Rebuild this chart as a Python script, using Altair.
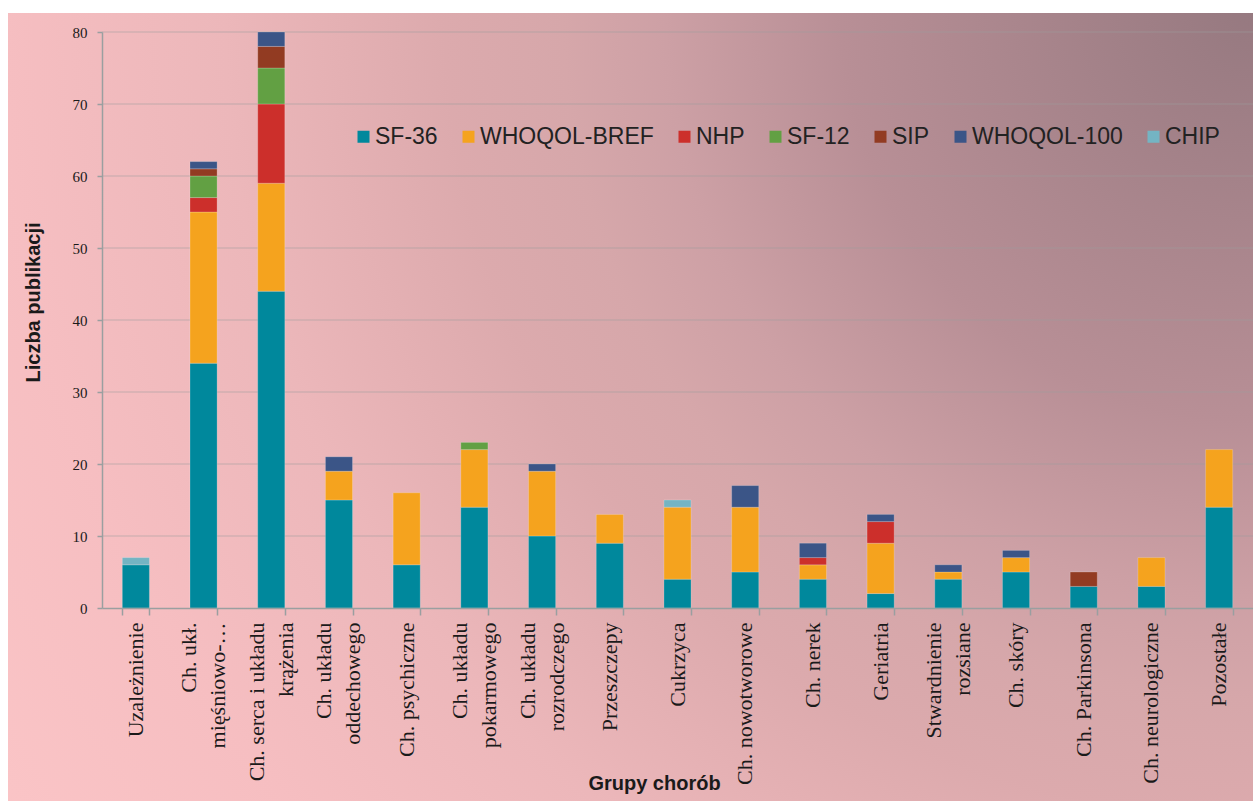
import altair as alt
import pandas as pd

categories = [
    "Uzależnienie",
    "Ch. ukł.|mięśniowo-…",
    "Ch. serca i układu|krążenia",
    "Ch. układu|oddechowego",
    "Ch. psychiczne",
    "Ch. układu|pokarmowego",
    "Ch. układu|rozrodczego",
    "Przeszczepy",
    "Cukrzyca",
    "Ch. nowotworowe",
    "Ch. nerek",
    "Geriatria",
    "Stwardnienie|rozsiane",
    "Ch. skóry",
    "Ch. Parkinsona",
    "Ch. neurologiczne",
    "Pozostałe",
]

series = ["SF-36", "WHOQOL-BREF", "NHP", "SF-12", "SIP", "WHOQOL-100", "CHIP"]
colors = ["#00889c", "#f5a31e", "#cc2f2b", "#62a043", "#923b22", "#3b5587", "#74b4c3"]

sf36 = [6, 34, 44, 15, 6, 14, 10, 9, 4, 5, 4, 2, 4, 5, 3, 3, 14]
whoqol_bref = [0, 21, 15, 4, 10, 8, 9, 4, 10, 9, 2, 7, 1, 2, 0, 4, 8]
nhp = [0, 2, 11, 0, 0, 0, 0, 0, 0, 0, 1, 3, 0, 0, 0, 0, 0]
sf12 = [0, 3, 5, 0, 0, 1, 0, 0, 0, 0, 0, 0, 0, 0, 0, 0, 0]
sip = [0, 1, 3, 0, 0, 0, 0, 0, 0, 0, 0, 0, 0, 0, 2, 0, 0]
whoqol100 = [0, 1, 2, 2, 0, 0, 1, 0, 0, 3, 2, 1, 1, 1, 0, 0, 0]
chip = [1, 0, 0, 0, 0, 0, 0, 0, 1, 0, 0, 0, 0, 0, 0, 0, 0]

y_ticks = [0, 10, 20, 30, 40, 50, 60, 70, 80]

values_by_series = [sf36, whoqol_bref, nhp, sf12, sip, whoqol100, chip]
rows = []
for si, (name, vals) in enumerate(zip(series, values_by_series)):
    for cat, v in zip(categories, vals):
        if v > 0:
            rows.append({"cat": cat, "series": name, "value": v, "order": si})
df = pd.DataFrame(rows)

W, H = 1151, 576
PL, PT, PR, PB = 102, 32, 0, 193
AX = "#9a9fa0"

gradient = {
    "gradient": "radial",
    "x1": 1, "y1": 0.18, "r1": 0,
    "x2": 1, "y2": 0.18, "r2": 1.18,
    "stops": [
        {"offset": 0.0, "color": "#967980"},
        {"offset": 0.28, "color": "#b88f96"},
        {"offset": 0.40, "color": "#cda0a5"},
        {"offset": 0.47, "color": "#d6a7aa"},
        {"offset": 0.55, "color": "#dcaaad"},
        {"offset": 0.62, "color": "#e4b0b3"},
        {"offset": 0.70, "color": "#ecb7ba"},
        {"offset": 0.85, "color": "#f6bec1"},
        {"offset": 1.0, "color": "#fac4c6"},
    ],
}

yscale = alt.Scale(domain=[0, 80], nice=False)
xscale = alt.Scale(paddingInner=0.6, paddingOuter=0.3)

y_axis = alt.Axis(
    values=y_ticks,
    title="Liczba publikacji",
    labelFont="Liberation Serif",
    labelFontSize=15,
    labelColor="#1a1a1a",
    labelPadding=10,
    tickSize=5,
    tickColor=AX,
    tickWidth=1.5,
    domainColor=AX,
    domainWidth=1.5,
    grid=False,
    titleFont="Liberation Sans",
    titleFontWeight="bold",
    titleFontSize=20,
    titleColor="#1a1a1a",
    titleX=-69,
    titleY=270,
    titleAngle=270,
    titleAlign="center",
    titleBaseline="middle",
    zindex=1,
)

bg = alt.Chart(pd.DataFrame({"k": [0]})).mark_rect(fill=gradient).encode(
    x=alt.value(8 - PL), x2=alt.value(W + PR), y=alt.value(13 - PT), y2=alt.value(H + PB)
)

grid = alt.Chart(pd.DataFrame({"g": y_ticks[1:]})).mark_rule(
    color="#9e9e9e", opacity=0.55, strokeWidth=1
).encode(y=alt.Y("g:Q", scale=yscale, axis=y_axis))

tick_layer = alt.Chart(df).mark_bar(opacity=0).encode(
    x=alt.X(
        "cat:N",
        sort=categories,
        scale=xscale,
        axis=alt.Axis(
            orient="bottom",
            labels=False,
            title=None,
            domain=False,
            grid=False,
            tickBand="extent",
            tickSize=7,
            tickColor=AX,
            tickWidth=1.5,
            zindex=1,
        ),
    )
)

bars = alt.Chart(df).mark_bar(stroke="#ffffff", strokeOpacity=0.2, strokeWidth=1).encode(
    x=alt.X(
        "cat:N",
        sort=categories,
        scale=xscale,
        axis=alt.Axis(
            orient="bottom",
            title="Grupy chorób",
            labelExpr="split(datum.value, '|')",
            labelAngle=270,
            labelAlign="right",
            labelBaseline="middle",
            labelOffset={
                "condition": {"test": "indexof(datum.value, '|') >= 0", "value": -14.5},
                "value": 0,
            },
            labelFont="Liberation Serif",
            labelFontSize=22,
            labelLineHeight=29,
            labelColor="#1a1a1a",
            labelLimit=400,
            labelPadding=14,
            labelOverlap=False,
            ticks=False,
            domainColor=AX,
            domainWidth=1.5,
            grid=False,
            titleFont="Liberation Sans",
            titleFontWeight="bold",
            titleFontSize=20,
            titleColor="#1a1a1a",
            titleX=552,
            titleY=181,
            titleAlign="center",
            titleBaseline="alphabetic",
            zindex=1,
        ),
    ),
    y=alt.Y("value:Q", stack="zero", scale=yscale, axis=y_axis),
    color=alt.Color(
        "series:N",
        scale=alt.Scale(domain=series, range=colors),
        title=None,
        legend=alt.Legend(
            orient="none",
            legendX=250,
            legendY=93,
            direction="horizontal",
            labelFont="Liberation Sans",
            labelFontSize=23,
            labelColor="#222222",
            labelOffset=0,
            labelLimit=400,
            symbolType="square",
            symbolSize=144,
            symbolStrokeWidth=0,
            symbolOpacity=1,
            columnPadding=19,
            padding=0,
        ),
    ),
    order=alt.Order("order:Q", sort="ascending"),
)

chart = alt.layer(bg, grid, tick_layer, bars).resolve_axis(x="independent").properties(
    width=W,
    height=H,
    autosize=alt.AutoSizeParams(type="none"),
    padding={"left": PL, "top": PT, "right": PR, "bottom": PB},
).configure(background="white").configure_view(strokeWidth=0)

chart.save("out.html", embed_options={"renderer": "svg", "actions": False})
